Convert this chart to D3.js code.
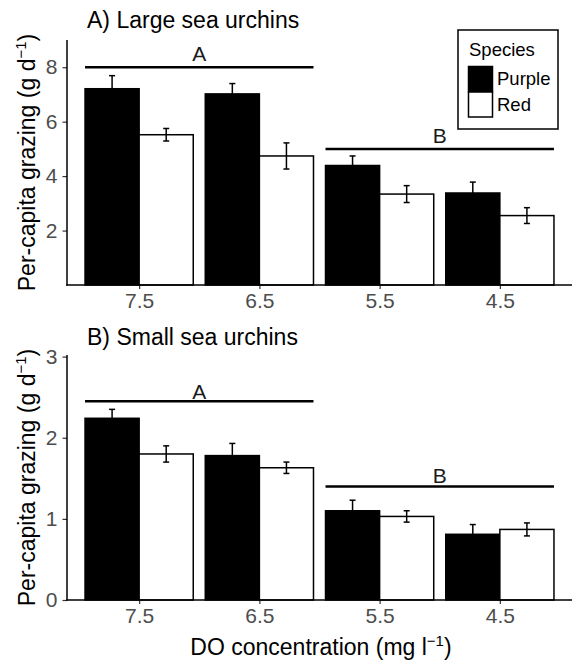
<!DOCTYPE html>
<html>
<head>
<meta charset="utf-8">
<script src="https://cdn.jsdelivr.net/npm/d3@7"></script>
<style>
  html, body { margin: 0; padding: 0; background: #fff; }
  svg { display: block; font-family: "Liberation Sans", Arial, Helvetica, sans-serif; }
</style>
</head>
<body>
<svg id="chart" width="572" height="663"></svg>
<script>
// ---- data ----
const categories = ["7.5", "6.5", "5.5", "4.5"];
const species = ["Purple", "Red"];

const largePurple   = [7.21, 7.02, 4.39, 3.38];
const largePurpleSE = [0.48, 0.38, 0.35, 0.40];
const largeRed      = [5.52, 4.74, 3.34, 2.55];
const largeRedSE    = [0.23, 0.48, 0.31, 0.29];

const smallPurple   = [2.24, 1.78, 1.10, 0.81];
const smallPurpleSE = [0.11, 0.15, 0.13, 0.12];
const smallRed      = [1.80, 1.63, 1.03, 0.87];
const smallRedSE    = [0.10, 0.07, 0.07, 0.08];

const largeTicks = [2, 4, 6, 8];
const smallTicks = [0, 1, 2, 3];

// significance groups: [first category, last category, line value, label value, label]
const largeSig = [["7.5", "6.5", 8.0, 8.5, "A"], ["5.5", "4.5", 5.0, 5.5, "B"]];
const smallSig = [["7.5", "6.5", 2.45, 2.57, "A"], ["5.5", "4.5", 1.40, 1.53, "B"]];

const fills = { Purple: "#000000", Red: "#ffffff" };

const svg = d3.select("#chart");
svg.append("rect").attr("width", 572).attr("height", 663).attr("fill", "#fff");

const x = d3.scalePoint().domain(categories).range([67, 572]).padding(0.6);
const step = x.step();
const barW = step * 0.45;

function panel(cfg) {
  const y = d3.scaleLinear().domain([0, cfg.ymax]).range([cfg.bottom, cfg.top]);
  const g = svg.append("g");

  const rows = [];
  categories.forEach((c, i) => {
    rows.push({ cat: c, sp: "Purple", v: cfg.purple[i], se: cfg.purpleSE[i], off: -1 });
    rows.push({ cat: c, sp: "Red", v: cfg.red[i], se: cfg.redSE[i], off: 0 });
  });

  // bars
  g.selectAll("rect.bar").data(rows).join("rect")
    .attr("class", "bar")
    .attr("x", d => x(d.cat) + d.off * barW)
    .attr("y", d => y(d.v))
    .attr("width", barW)
    .attr("height", d => y(0) - y(d.v))
    .attr("fill", d => fills[d.sp])
    .attr("stroke", "#000")
    .attr("stroke-width", 1.5);

  // error bars
  const cap = 3;
  const cx = d => x(d.cat) + d.off * barW + barW / 2;
  const eb = g.selectAll("g.eb").data(rows).join("g").attr("class", "eb")
    .attr("stroke", "#000").attr("stroke-width", 1.5);
  eb.append("line")
    .attr("x1", cx).attr("x2", cx)
    .attr("y1", d => y(d.v - d.se)).attr("y2", d => y(d.v + d.se));
  eb.append("line")
    .attr("x1", d => cx(d) - cap).attr("x2", d => cx(d) + cap)
    .attr("y1", d => y(d.v + d.se)).attr("y2", d => y(d.v + d.se));
  eb.append("line")
    .attr("x1", d => cx(d) - cap).attr("x2", d => cx(d) + cap)
    .attr("y1", d => y(d.v - d.se)).attr("y2", d => y(d.v - d.se));

  // significance lines
  cfg.sig.forEach(s => {
    g.append("line")
      .attr("x1", x(s[0]) - step * 0.45).attr("x2", x(s[1]) + step * 0.45)
      .attr("y1", y(s[2])).attr("y2", y(s[2]))
      .attr("stroke", "#000").attr("stroke-width", 2.5);
    g.append("text")
      .attr("x", (x(s[0]) + x(s[1])) / 2).attr("y", y(s[3]))
      .attr("text-anchor", "middle").attr("dominant-baseline", "central")
      .attr("font-size", 21).attr("fill", "#1a1a1a").text(s[4]);
  });

  // axes
  const yAxis = d3.axisLeft(y).tickValues(cfg.ticks).tickSize(4.5).tickPadding(5).tickFormat(d3.format("d"));
  const ya = g.append("g").attr("transform", "translate(67,0)").call(yAxis);
  ya.select(".domain").remove();
  ya.selectAll(".tick line").attr("stroke", "#333").attr("stroke-width", 1.2);
  ya.selectAll(".tick text").attr("font-size", 21).attr("fill", "#4d4d4d")
    .attr("font-family", "'Liberation Sans', Arial, sans-serif");

  const xAxis = d3.axisBottom(x).tickSize(4).tickPadding(4);
  const xa = g.append("g").attr("transform", `translate(0,${cfg.bottom})`).call(xAxis);
  xa.select(".domain").remove();
  xa.selectAll(".tick line").attr("stroke", "#333").attr("stroke-width", 1.2);
  xa.selectAll(".tick text").attr("font-size", 21).attr("fill", "#4d4d4d")
    .attr("font-family", "'Liberation Sans', Arial, sans-serif");

  g.append("line").attr("x1", 67).attr("x2", 67).attr("y1", cfg.top).attr("y2", cfg.bottom + 0.75)
    .attr("stroke", "#000").attr("stroke-width", 1.5);
  g.append("line").attr("x1", 66.25).attr("x2", 572).attr("y1", cfg.bottom).attr("y2", cfg.bottom)
    .attr("stroke", "#000").attr("stroke-width", 1.5);

  // title
  g.append("text").attr("x", 87).attr("y", cfg.titleY).attr("font-size", 23).attr("fill", "#000").text(cfg.title);

  // y label
  const yl = g.append("text")
    .attr("transform", `translate(35,${(cfg.top + cfg.bottom) / 2}) rotate(-90)`)
    .attr("text-anchor", "middle").attr("font-size", 23).attr("fill", "#000");
  yl.append("tspan").text("Per-capita grazing (g d");
  yl.append("tspan").attr("font-size", 15).attr("dy", -9).text("\u22121");
  yl.append("tspan").attr("dy", 9).text(")");
}

panel({ purple: largePurple, purpleSE: largePurpleSE, red: largeRed, redSE: largeRedSE,
        ymax: 9, top: 40, bottom: 285, ticks: largeTicks, sig: largeSig,
        title: "A) Large sea urchins", titleY: 28 });
panel({ purple: smallPurple, purpleSE: smallPurpleSE, red: smallRed, redSE: smallRedSE,
        ymax: 3.02, top: 355, bottom: 600, ticks: smallTicks, sig: smallSig,
        title: "B) Small sea urchins", titleY: 345 });

// x axis title
const xt = svg.append("text").attr("x", 321).attr("y", 655).attr("text-anchor", "middle")
  .attr("font-size", 23).attr("fill", "#000");
xt.append("tspan").text("DO concentration (mg l");
xt.append("tspan").attr("font-size", 15).attr("dy", -9).text("\u22121");
xt.append("tspan").attr("dy", 9).text(")");

// legend
const lg = svg.append("g");
lg.append("rect").attr("x", 458).attr("y", 30).attr("width", 100).attr("height", 99)
  .attr("fill", "#fff").attr("stroke", "#000").attr("stroke-width", 1.5);
lg.append("text").attr("x", 469).attr("y", 56).attr("font-size", 18.5).attr("fill", "#000").text("Species");
species.forEach((s, i) => {
  lg.append("rect").attr("x", 468.5).attr("y", 66.5 + i * 25.5).attr("width", 24).attr("height", 25)
    .attr("fill", fills[s]).attr("stroke", "#000").attr("stroke-width", 1.5);
  lg.append("text").attr("x", 497).attr("y", 85 + i * 26).attr("font-size", 18.5).attr("fill", "#000").text(s);
});
</script>
</body>
</html>
